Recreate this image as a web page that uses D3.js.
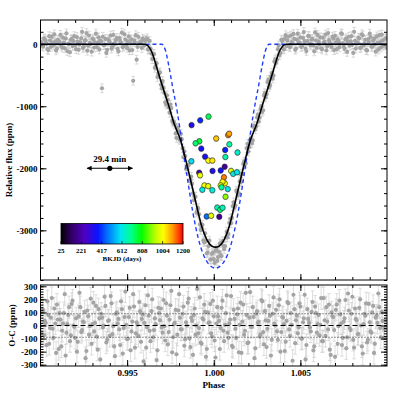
<!DOCTYPE html>
<html>
<head>
<meta charset="utf-8">
<script src="https://cdn.jsdelivr.net/npm/d3@7"></script>
<style>
  body { margin: 0; background: #fff; }
  svg text { font-family: "Liberation Serif", "Times New Roman", serif; font-weight: bold; fill: #000; }
  .tick text { font-size: 9px; }
</style>
</head>
<body>
<svg id="chart" width="407" height="407"></svg>
<script>
// phase-folded light curve, two interleaved cadence sets
const phaseStart = 0.99005;
const phaseStep = 0.0001;
const fluxErr = 70;
const residErr = 85;

// relative flux (ppm), set A (phases phaseStart + i*step)
const fluxTop = [
  35, -40, 80, 10, -95, 60, 120, -20, 45, -70,
  15, 150, -55, 25, 90, -110, 5, 70, -30, 130,
  -80, 40, 0, 95, -60, 55, 180, -25, 20, -120,
  75, 30, -45, 110, 60, -710, -15, 85, -90, 50,
  140, -35, 10, 65, -75, 100, 25, -50, 160, -10,
  45, -100, 80, -590, 30, -250, 120, 15, -60, 70,
  55, 95, -85, -70, -240, -160, -350, -530, -465, -655,
  -595, -785, -970, -895, -1105, -1030, -1265, -1290, -1510, -1390,
  -1545, -1530, -1820, -1805, -2005, -1950, -2190, -2250, -2515, -2460,
  -2680, -2740, -2995, -2910, -3190, -3175, -3360, -3165, -3470, -3360,
  -3525, -3305, -3430, -3210, -3415, -3250, -3255, -3020, -3060, -2815,
  -2800, -2550, -2600, -2385, -2405, -2095, -2090, -1895, -1920, -1605,
  -1660, -1515, -1550, -1315, -1325, -1135, -1185, -1000, -1065, -790,
  -805, -575, -660, -465, -505, -245, -250, -20, -140, 50,
  -85, 145, 60, -30, 140, 10, 85, -70, 170, 25,
  -45, 100, 50, -110, 135, 5, 75, -20, 190, -60,
  40, 110, -85, 20, 155, -35, 65, -5, 120, -95,
  30, 80, -50, 175, 15, -75, 95, 45, -25, 130,
  -140, 55, 10, 105, -60, 160, -15, 70, -100, 35,
  115, -40, 85, -120, 20, 145, -55, 60, -10, 95
];
// set B (half a step later)
const fluxTopB = [
  -20, 95, 55, -80, 130, -45, 20, 160, -100, 70,
  40, -25, 105, -65, 175, 10, -130, 85, 50, -15,
  115, -90, 30, 200, -40, 65, -105, 140, 5, 90,
  -55, 170, 25, -85, 45, 120, -10, -140, 80, 35,
  -70, 150, 0, 100, -115, 55, 185, -30, 75, -60,
  125, 15, -95, 60, 145, -45, 20, 40, 90, -20,
  68, -85, 52, -150, -160, -380, -305, -480, -455, -715,
  -700, -937, -823, -1020, -973, -1237, -1250, -1438, -1345, -1528,
  -1445, -1680, -1725, -2010, -1960, -2198, -2135, -2403, -2450, -2715,
  -2640, -2905, -2950, -3163, -3047, -3370, -3255, -3470, -3375, -3463,
  -3330, -3493, -3345, -3400, -3175, -3300, -3117, -3113, -2880, -2885,
  -2610, -2630, -2360, -2433, -2210, -2218, -1930, -1925, -1675, -1730,
  -1545, -1598, -1335, -1368, -1180, -1247, -1043, -1090, -828, -857,
  -610, -695, -520, -555, -280, -300, -80, -175, 72, -70,
  88, -30, 120, -50, 35, 165, -90, 70, 15, 110,
  -35, 195, -75, 50, 130, -20, 85, -115, 60, 150,
  0, -65, 105, 40, -100, 180, 25, -45, 90, 135,
  -80, 55, 10, 165, -30, 75, -125, 120, 45, -10,
  200, -70, 30, 95, -55, 140, 15, -95, 80, 170,
  -40, 60, -5, 125, -85, 35, 155, -25, 90, -60
];

// O-C residuals (ppm), set A and set B
const resid = [
  -60, 120, 35, -150, 80, -20, 210, -95, 15, 160,
  -180, 45, -40, 95, -230, 10, 140, -75, 190, -10,
  55, -125, 250, -50, 30, 105, -195, 70, -5, -140,
  175, 20, -85, 125, -260, 60, 0, 150, -110, 40,
  225, -65, -160, 90, 15, -30, 185, -215, 65, 5,
  -100, 135, -45, 240, -170, 25, -80, 110, 50, -275,
  155, -15, 75, -120, 200, -35, 10, -190, 95, 130,
  -55, -5, 170, -145, 45, 265, -90, 20, -220, 115,
  60, -30, 145, -105, 0, 205, -165, 35, 80, -70,
  280, -20, -130, 55, 160, -240, 100, 25, -60, 190,
  -115, 15, 70, -180, 135, -40, 5, 230, -95, 45,
  -155, 120, -25, 85, -205, 175, 30, -70, 250, -135,
  60, -10, 140, -250, 90, 20, -85, 195, -50, 110,
  -165, 35, 75, -110, 215, 0, -45, 155, -200, 65,
  10, -125, 180, -30, 95, -270, 125, 40, -60, 170,
  -100, 25, 235, -150, 50, -15, 105, -190, 145, -55,
  80, 5, -120, 210, -80, 30, 160, -225, 70, -35,
  120, -140, 190, 15, -95, 55, -175, 245, -20, 90,
  -110, 130, 40, -65, 200, -160, 10, 75, -130, 165,
  -45, 100, -210, 60, 20, 140, -90, 35, -25, 115
];
const residB = [
  110, -75, 20, 185, -140, 60, -25, 130, -210, 45,
  95, -160, 15, 240, -55, 80, -120, 165, 0, -95,
  -200, 70, 140, -35, 25, -250, 115, -70, 205, 10,
  -45, 150, -185, 55, 90, -15, 220, -130, 35, -80,
  170, -5, -235, 100, 50, -150, 125, -20, 260, -105,
  65, -190, 30, 145, -60, 5, 180, -125, 85, 20,
  -170, 230, -40, 110, -90, 55, -265, 135, 40, -15,
  195, -115, 75, -50, 155, -205, 10, 120, -70, 240,
  -30, 90, -155, 25, 175, -100, 60, -225, 130, 0,
  -60, 215, -140, 45, 105, -180, 20, 165, -85, 70,
  -245, 140, 35, -20, 190, -120, 95, -55, 15, 225,
  -165, 50, -95, 130, 5, -210, 160, -40, 80, -130,
  255, -10, 65, -175, 110, 30, -70, 185, -145, 40,
  -25, 150, -230, 90, 15, 120, -110, 200, -50, 60,
  -195, 35, 170, -80, 5, 235, -135, 75, -15, 145,
  -100, 55, -260, 125, 20, -45, 180, -160, 95, 10,
  -75, 210, -120, 40, 140, -30, -185, 100, 65, -240,
  160, -5, 85, -150, 30, 195, -90, 115, -35, 220,
  -170, 50, -65, 135, 0, -215, 90, 170, -110, 25,
  -55, 150, -140, 75, 245, -20, 105, -95, 40, -180
];

// best-fit model (solid black)
const modelPhase = [0.9900, 0.9960, 0.9962, 0.9964, 0.9966, 0.9968, 0.9971, 0.9974, 0.9977, 0.9981, 0.9985,
  0.9989, 0.9993, 0.9996, 0.9999, 1.0001, 1.0003, 1.0006, 1.0009, 1.0013, 1.0017, 1.0021, 1.0025,
  1.0028, 1.0031, 1.0034, 1.0036, 1.0038, 1.0040, 1.0042, 1.0100];
const modelFlux = [0, 0, -25, -110, -270, -460, -730, -990, -1270, -1560, -2000,
  -2470, -2930, -3150, -3255, -3270, -3255, -3150, -2930, -2470, -2000, -1560, -1270,
  -990, -730, -460, -270, -110, -25, 0, 0];

// alternative model (blue dashed)
const altPhase = [0.9900, 0.9970, 0.9972, 0.9974, 0.9976, 0.9979, 0.9982, 0.9985, 0.9988, 0.9991, 0.9994,
  0.9997, 1.0001, 1.0005, 1.0008, 1.0011, 1.0014, 1.0017, 1.0020, 1.0023, 1.0026, 1.0028, 1.0030,
  1.0032, 1.0100];
const altFlux = [0, 0, -90, -340, -650, -1100, -1650, -2200, -2720, -3120, -3390,
  -3540, -3610, -3540, -3390, -3120, -2720, -2200, -1650, -1100, -650, -340, -90, 0, 0];

// individual transit depths, coloured by BKJD
const colPhase = [0.99872, 0.99922, 0.99970, 0.99917, 0.99895, 1.00014, 1.00083, 1.00089, 0.99928, 1.00090,
  1.00066, 1.00137, 1.00067, 0.99950, 0.99969, 0.99992, 0.99871, 1.00063, 0.99916, 0.99921,
  0.99993, 1.00040, 1.00059, 1.00100, 1.00112, 1.00134, 1.00064, 1.00051, 0.99946, 0.99968,
  0.99934, 0.99992, 1.00040, 1.00045, 1.00081, 1.00068, 1.00020, 1.00037, 1.00051, 0.99959,
  0.99985, 1.00032];
const colFlux = [-1304, -1227, -1167, -1565, -1597, -1520, -1465, -1444, -1683, -1614,
  -1705, -1746, -1818, -1812, -1876, -1876, -1887, -1976, -2072, -2113,
  -2043, -2035, -2145, -2042, -2089, -2064, -2242, -2217, -2277, -2287,
  -2346, -2354, -2274, -2306, -2335, -2459, -2633, -2668, -2636, -2776,
  -2765, -2781];
const colBkjd = [330, 400, 740, 760, 720, 1060, 1110, 1090, 360, 680,
  390, 640, 670, 350, 1010, 1030, 590, 200, 210, 990,
  340, 370, 1120, 970, 610, 600, 1000, 1020, 995, 980,
  620, 630, 960, 700, 605, 900, 650, 720, 660, 470,
  980, 190];
const colErr = 45;

// colour table
const cmapValues = [25, 120, 250, 380, 470, 600, 700, 800, 930, 1010, 1100, 1200];
const cmapColors = ['#000000', '#300060', '#5000c0', '#0a14ff', '#0070ff', '#00e5f0',
  '#00ff90', '#00ff00', '#b8ff00', '#ffff00', '#ff9a00', '#ff0000'];
const cbTicks = [25, 221, 417, 612, 808, 1004, 1200];

// duration marker
const durCenter = 0.9940, durHalf = 0.00131, durFlux = -2000, durLabel = '29.4 min';

const svg = d3.select('#chart');
const left = 40.5, right = 387;
const top1 = 20, bot1 = 280, top2 = 285, bot2 = 366;

const x = d3.scaleLinear().domain([0.990, 1.010]).range([left, right]);
const yT = d3.scaleLinear().domain([-3800, 390]).range([bot1, top1]);
const yB = d3.scaleLinear().domain([-310, 310]).range([bot2, top2]);
const color = d3.scaleLinear().domain(cmapValues).range(cmapColors);

const defs = svg.append('defs');
defs.append('clipPath').attr('id', 'clipTop').append('rect')
  .attr('x', left).attr('y', top1).attr('width', right - left).attr('height', bot1 - top1);
defs.append('clipPath').attr('id', 'clipBot').append('rect')
  .attr('x', left).attr('y', top2).attr('width', right - left).attr('height', bot2 - top2);

const errPath = (px, y1, y2, w) => `M${px},${y1}V${y2}M${px - w},${y1}h${2 * w}M${px - w},${y2}h${2 * w}`;

// ---- top panel
const topData = fluxTop.map((f, i) => ({ p: phaseStart + i * phaseStep, f }))
  .concat(fluxTopB.map((f, i) => ({ p: phaseStart + (i + 0.5) * phaseStep, f })));
const gTop = svg.append('g').attr('clip-path', 'url(#clipTop)');

gTop.append('g').selectAll('path').data(topData).join('path')
  .attr('d', d => errPath(x(d.p), yT(d.f - fluxErr), yT(d.f + fluxErr), 1.8))
  .attr('stroke', '#cbcbcb').attr('stroke-width', 0.7).attr('fill', 'none');
gTop.append('g').selectAll('circle').data(topData).join('circle')
  .attr('cx', d => x(d.p)).attr('cy', d => yT(d.f)).attr('r', 2.1)
  .attr('fill', '#a4a4a4');

const line = (xs, ys) => d3.line()
  .x((d, i) => x(xs[i])).y(d => yT(d))
  .curve(d3.curveMonotoneX)(ys);

gTop.append('path').attr('d', line(altPhase, altFlux))
  .attr('fill', 'none').attr('stroke', '#1f3cff').attr('stroke-width', 1.4)
  .attr('stroke-dasharray', '4,3');
gTop.append('path').attr('d', line(modelPhase, modelFlux))
  .attr('fill', 'none').attr('stroke', '#000').attr('stroke-width', 1.6);

const colData = colPhase.map((p, i) => ({ p, f: colFlux[i], t: colBkjd[i] }));
gTop.append('g').selectAll('path').data(colData).join('path')
  .attr('d', d => errPath(x(d.p), yT(d.f - colErr), yT(d.f + colErr), 1.8))
  .attr('stroke', '#bdbdbd').attr('stroke-width', 0.7).attr('fill', 'none');
gTop.append('g').selectAll('circle').data(colData).join('circle')
  .attr('cx', d => x(d.p)).attr('cy', d => yT(d.f)).attr('r', 2.7)
  .attr('fill', d => color(d.t)).attr('stroke', '#222').attr('stroke-width', 0.6);

// duration arrow
defs.append('marker').attr('id', 'arr').attr('viewBox', '0 0 10 10')
  .attr('refX', 9).attr('refY', 5).attr('markerWidth', 6).attr('markerHeight', 5)
  .attr('markerUnits', 'userSpaceOnUse').attr('orient', 'auto-start-reverse')
  .append('path').attr('d', 'M0,0L10,5L0,10z').attr('fill', '#000');
svg.append('line')
  .attr('x1', x(durCenter - durHalf)).attr('x2', x(durCenter + durHalf))
  .attr('y1', yT(durFlux)).attr('y2', yT(durFlux))
  .attr('stroke', '#000').attr('stroke-width', 1.1)
  .attr('marker-start', 'url(#arr)').attr('marker-end', 'url(#arr)');
svg.append('circle').attr('cx', x(durCenter)).attr('cy', yT(durFlux)).attr('r', 2.6).attr('fill', '#000');
svg.append('text').attr('x', x(durCenter)).attr('y', yT(durFlux) - 6)
  .attr('text-anchor', 'middle').attr('font-size', 9).text(durLabel);

// colour bar
const cbX = d3.scaleLinear().domain([25, 1200]).range([61, 183]);
const cbTop = 223.5, cbBot = 244;
const grad = defs.append('linearGradient').attr('id', 'cbGrad');
grad.selectAll('stop').data(cmapValues).join('stop')
  .attr('offset', d => (d - 25) / 1175).attr('stop-color', d => color(d));
svg.append('rect').attr('x', cbX(25)).attr('y', cbTop)
  .attr('width', cbX(1200) - cbX(25)).attr('height', cbBot - cbTop)
  .attr('fill', 'url(#cbGrad)').attr('stroke', '#000').attr('stroke-width', 0.8);
svg.append('g').selectAll('line').data(cbTicks).join('line')
  .attr('x1', d => cbX(d)).attr('x2', d => cbX(d))
  .attr('y1', cbBot).attr('y2', cbBot - 3).attr('stroke', '#000').attr('stroke-width', 0.7);
svg.append('g').selectAll('text').data(cbTicks).join('text')
  .attr('x', d => cbX(d)).attr('y', 253).attr('text-anchor', 'middle')
  .attr('font-size', 7).text(d => d);
svg.append('text').attr('x', cbX(612)).attr('y', 261).attr('text-anchor', 'middle')
  .attr('font-size', 7).text('BKJD (days)');

// ---- bottom panel
const resData = resid.map((r, i) => ({ p: phaseStart + i * phaseStep, r }))
  .concat(residB.map((r, i) => ({ p: phaseStart + (i + 0.5) * phaseStep, r })));
const gBot = svg.append('g').attr('clip-path', 'url(#clipBot)');
gBot.append('g').selectAll('path').data(resData).join('path')
  .attr('d', d => errPath(x(d.p), yB(d.r - residErr), yB(d.r + residErr), 1.8))
  .attr('stroke', '#d0d0d0').attr('stroke-width', 0.7).attr('fill', 'none');
gBot.append('g').selectAll('circle').data(resData).join('circle')
  .attr('cx', d => x(d.p)).attr('cy', d => yB(d.r)).attr('r', 2.1)
  .attr('fill', '#a4a4a4');
gBot.append('line').attr('x1', left).attr('x2', right).attr('y1', yB(0)).attr('y2', yB(0))
  .attr('stroke', '#000').attr('stroke-width', 1).attr('stroke-dasharray', '5,3');
[90, -90].forEach(v => {
  gBot.append('line').attr('x1', left).attr('x2', right).attr('y1', yB(v)).attr('y2', yB(v))
    .attr('stroke', '#000').attr('stroke-width', 0.8).attr('stroke-dasharray', '1,2');
});

// ---- axes
const noLabel = () => '';
const xMajor = [0.995, 1.000, 1.005];
const xMinor = d3.range(991, 1010).map(v => v / 1000);
const strip = g => g.select('.domain').remove();

function xTicks(yPos, axisFn, size, values, fmt) {
  svg.append('g').attr('transform', `translate(0,${yPos})`)
    .call(axisFn(x).tickValues(values).tickSize(-size).tickPadding(4).tickFormat(fmt))
    .call(strip);
}
function yTicks(scale, xPos, axisFn, size, values, fmt) {
  svg.append('g').attr('transform', `translate(${xPos},0)`)
    .call(axisFn(scale).tickValues(values).tickSize(-size).tickPadding(3).tickFormat(fmt))
    .call(strip);
}

[[top1, d3.axisTop], [bot1, d3.axisBottom], [top2, d3.axisTop]].forEach(([yy, fn]) => {
  xTicks(yy, fn, 6, xMajor, noLabel);
  xTicks(yy, fn, 3, xMinor, noLabel);
});
xTicks(bot2, d3.axisBottom, 6, xMajor, d3.format('.3f'));
xTicks(bot2, d3.axisBottom, 3, xMinor, noLabel);

const yTMajor = [0, -1000, -2000, -3000];
const yTMinor = d3.range(-3800, 391, 200);
yTicks(yT, left, d3.axisLeft, 6, yTMajor, d => String(d));
yTicks(yT, left, d3.axisLeft, 3, yTMinor, noLabel);
yTicks(yT, right, d3.axisRight, 6, yTMajor, noLabel);
yTicks(yT, right, d3.axisRight, 3, yTMinor, noLabel);

const yBMajor = d3.range(-300, 301, 100);
const yBMinor = d3.range(-300, 301, 20);
yTicks(yB, left, d3.axisLeft, 6, yBMajor, d => String(d));
yTicks(yB, left, d3.axisLeft, 3, yBMinor, noLabel);
yTicks(yB, right, d3.axisRight, 6, yBMajor, noLabel);
yTicks(yB, right, d3.axisRight, 3, yBMinor, noLabel);

// frames
svg.append('rect').attr('x', left).attr('y', top1).attr('width', right - left).attr('height', bot1 - top1)
  .attr('fill', 'none').attr('stroke', '#000').attr('stroke-width', 1);
svg.append('rect').attr('x', left).attr('y', top2).attr('width', right - left).attr('height', bot2 - top2)
  .attr('fill', 'none').attr('stroke', '#000').attr('stroke-width', 1);

// axis titles
svg.append('text').attr('transform', `translate(12,${(top1 + bot1) / 2 + 10}) rotate(-90)`)
  .attr('text-anchor', 'middle').attr('font-size', 9).text('Relative flux (ppm)');
svg.append('text').attr('transform', `translate(15,${(top2 + bot2) / 2}) rotate(-90)`)
  .attr('text-anchor', 'middle').attr('font-size', 9).text('O-C (ppm)');
svg.append('text').attr('x', x(1.0)).attr('y', 388).attr('text-anchor', 'middle')
  .attr('font-size', 9).text('Phase');
</script>
</body>
</html>
